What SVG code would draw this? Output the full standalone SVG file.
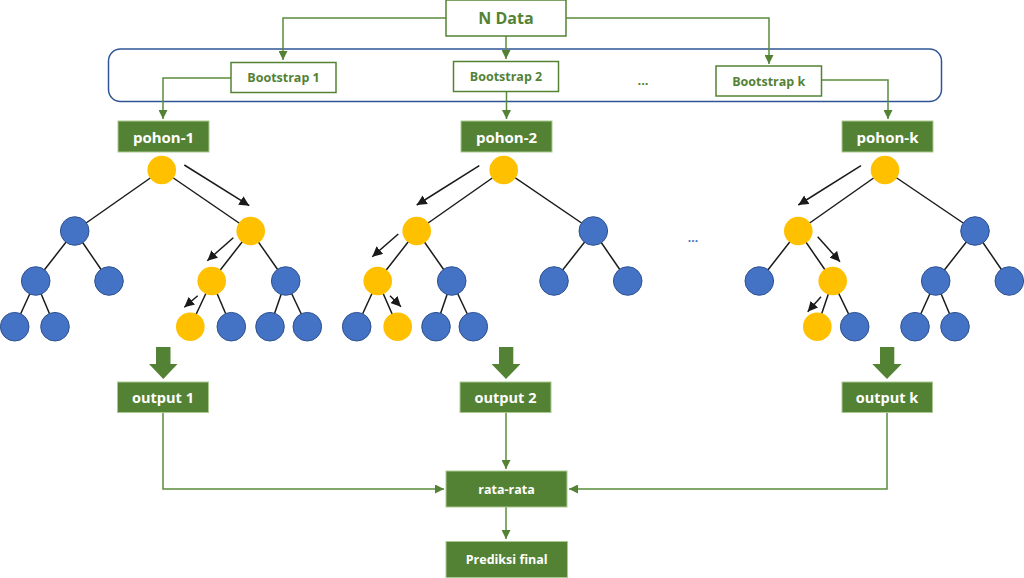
<svg xmlns="http://www.w3.org/2000/svg" width="1024" height="578" viewBox="0 0 1024 578">
<style>
.obox{fill:#fff;stroke:#548235;stroke-width:1.5}
.gbox{fill:#548235;stroke:#a9c98f;stroke-width:1}
.otxt{fill:#548235;font-family:"Open Sans","Liberation Sans",sans-serif;font-weight:700;text-anchor:middle;dominant-baseline:central}
.gtxt{fill:#fff;font-family:"Open Sans","Liberation Sans",sans-serif;font-weight:700;text-anchor:middle;dominant-baseline:central}
.conn{fill:none;stroke:#5b8c3c;stroke-width:1.5}
.edge{stroke:#1a1a1a;stroke-width:1.5}
.tarr{stroke:#1a1a1a;stroke-width:1.5;marker-end:url(#bk)}
.y{fill:#ffc000}
.b{fill:#4472c4;stroke:#2f528f;stroke-width:1}
.big{fill:#548235}
</style>
<defs>
<marker id="gm" viewBox="0 0 10 10" refX="10" refY="5" markerWidth="9" markerHeight="9" orient="auto" markerUnits="userSpaceOnUse">
<path d="M0,0 L10,5 L0,10 z" fill="#548235"/>
</marker>
<marker id="bk" viewBox="0 0 10 10" refX="10" refY="5" markerWidth="10" markerHeight="10" orient="auto" markerUnits="userSpaceOnUse">
<path d="M0,0 L10,5 L0,10 z" fill="#1a1a1a"/>
</marker>
</defs>

<rect id="container" x="108.5" y="49" width="833" height="52.5" rx="12" fill="none" stroke="#2f5597" stroke-width="1.5"/>
<text x="643" y="80" class="otxt" font-size="13">...</text>
<text x="693" y="242" fill="#4472c4" font-family="Open Sans, sans-serif" font-size="12" font-weight="700" text-anchor="middle">...</text>

<g id="connectors">
<path class="conn" d="M446,18 H283 V60" marker-end="url(#gm)"/>
<path class="conn" d="M506,36 V59" marker-end="url(#gm)"/>
<path class="conn" d="M566,18 H769 V64" marker-end="url(#gm)"/>
<path class="conn" d="M231,78 H163 V119" marker-end="url(#gm)"/>
<path class="conn" d="M506.5,92 V119" marker-end="url(#gm)"/>
<path class="conn" d="M822,80 H888 V119" marker-end="url(#gm)"/>
<path class="conn" d="M163,412 V489 H444" marker-end="url(#gm)"/>
<path class="conn" d="M506,412 V469" marker-end="url(#gm)"/>
<path class="conn" d="M887,412 V489 H569" marker-end="url(#gm)"/>
<path class="conn" d="M506,507 V539" marker-end="url(#gm)"/>
</g>

<g id="n-data"><rect class="obox" x="446" y="0" width="120" height="36"/><text class="otxt" x="506" y="18" font-size="16">N Data</text></g>
<g id="bootstrap-1"><rect class="obox" x="231" y="62.5" width="105" height="30"/><text class="otxt" x="283.5" y="77.5" font-size="12.5">Bootstrap 1</text></g>
<g id="bootstrap-2"><rect class="obox" x="453.5" y="61.5" width="105" height="30"/><text class="otxt" x="506" y="76.5" font-size="12.5">Bootstrap 2</text></g>
<g id="bootstrap-k"><rect class="obox" x="716" y="66" width="105.5" height="30"/><text class="otxt" x="768.7" y="81" font-size="12.5">Bootstrap k</text></g>

<g id="pohon-1"><rect class="gbox" x="118" y="121" width="91" height="31"/><text class="gtxt" x="163.5" y="136.5" font-size="15">pohon-1</text></g>
<g id="pohon-2"><rect class="gbox" x="461" y="121" width="91" height="31"/><text class="gtxt" x="506.5" y="136.5" font-size="15">pohon-2</text></g>
<g id="pohon-k"><rect class="gbox" x="842" y="121" width="91" height="31"/><text class="gtxt" x="887.5" y="136.5" font-size="15">pohon-k</text></g>

<g id="tree-1">
<line class="edge" x1="161.7" y1="170" x2="74.7" y2="231"/>
<line class="edge" x1="161.7" y1="170" x2="250.7" y2="231"/>
<line class="edge" x1="74.7" y1="231" x2="35.7" y2="281"/>
<line class="edge" x1="74.7" y1="231" x2="109" y2="281"/>
<line class="edge" x1="250.7" y1="231" x2="211.7" y2="281"/>
<line class="edge" x1="250.7" y1="231" x2="285.7" y2="281"/>
<line class="edge" x1="35.7" y1="281" x2="14.7" y2="326.7"/>
<line class="edge" x1="35.7" y1="281" x2="55" y2="326.7"/>
<line class="edge" x1="211.7" y1="281" x2="190.3" y2="326.7"/>
<line class="edge" x1="211.7" y1="281" x2="231.3" y2="326.7"/>
<line class="edge" x1="285.7" y1="281" x2="270" y2="326.7"/>
<line class="edge" x1="285.7" y1="281" x2="307.3" y2="326.7"/>
<circle class="y" cx="161.7" cy="170" r="14.3"/>
<circle class="b" cx="74.7" cy="231" r="14.3"/>
<circle class="y" cx="250.7" cy="231" r="14.3"/>
<circle class="b" cx="35.7" cy="281" r="14.3"/>
<circle class="b" cx="109" cy="281" r="14.3"/>
<circle class="y" cx="211.7" cy="281" r="14.3"/>
<circle class="b" cx="285.7" cy="281" r="14.3"/>
<circle class="b" cx="14.7" cy="326.7" r="14.3"/>
<circle class="b" cx="55" cy="326.7" r="14.3"/>
<circle class="y" cx="190.3" cy="326.7" r="14.3"/>
<circle class="b" cx="231.3" cy="326.7" r="14.3"/>
<circle class="b" cx="270" cy="326.7" r="14.3"/>
<circle class="b" cx="307.3" cy="326.7" r="14.3"/>
<line class="tarr" x1="184.3" y1="165" x2="249.3" y2="205.7"/>
<line class="tarr" x1="233.3" y1="237.7" x2="207.3" y2="260.7"/>
<line class="tarr" x1="197.7" y1="295.7" x2="184.3" y2="307.3"/>
</g>

<g id="tree-2">
<line class="edge" x1="503.7" y1="170" x2="416.7" y2="231"/>
<line class="edge" x1="503.7" y1="170" x2="593.3" y2="231"/>
<line class="edge" x1="416.7" y1="231" x2="377.7" y2="281"/>
<line class="edge" x1="416.7" y1="231" x2="451.7" y2="281"/>
<line class="edge" x1="593.3" y1="231" x2="554" y2="281"/>
<line class="edge" x1="593.3" y1="231" x2="627.7" y2="281"/>
<line class="edge" x1="377.7" y1="281" x2="356.7" y2="326.7"/>
<line class="edge" x1="377.7" y1="281" x2="397.7" y2="326.7"/>
<line class="edge" x1="451.7" y1="281" x2="436" y2="326.7"/>
<line class="edge" x1="451.7" y1="281" x2="473.3" y2="326.7"/>
<circle class="y" cx="503.7" cy="170" r="14.3"/>
<circle class="y" cx="416.7" cy="231" r="14.3"/>
<circle class="b" cx="593.3" cy="231" r="14.3"/>
<circle class="y" cx="377.7" cy="281" r="14.3"/>
<circle class="b" cx="451.7" cy="281" r="14.3"/>
<circle class="b" cx="554" cy="281" r="14.3"/>
<circle class="b" cx="627.7" cy="281" r="14.3"/>
<circle class="b" cx="356.7" cy="326.7" r="14.3"/>
<circle class="y" cx="397.7" cy="326.7" r="14.3"/>
<circle class="b" cx="436" cy="326.7" r="14.3"/>
<circle class="b" cx="473.3" cy="326.7" r="14.3"/>
<line class="tarr" x1="479.3" y1="165.7" x2="416.7" y2="205"/>
<line class="tarr" x1="398.3" y1="234" x2="372.3" y2="256.7"/>
<line class="tarr" x1="390" y1="295.7" x2="401" y2="306.7"/>
</g>

<g id="tree-k">
<line class="edge" x1="885" y1="170" x2="798.3" y2="231"/>
<line class="edge" x1="885" y1="170" x2="975" y2="231"/>
<line class="edge" x1="798.3" y1="231" x2="759.3" y2="281"/>
<line class="edge" x1="798.3" y1="231" x2="832.7" y2="281"/>
<line class="edge" x1="975" y1="231" x2="935.7" y2="281"/>
<line class="edge" x1="975" y1="231" x2="1009.3" y2="281"/>
<line class="edge" x1="832.7" y1="281" x2="817.3" y2="326.7"/>
<line class="edge" x1="832.7" y1="281" x2="854.7" y2="326.7"/>
<line class="edge" x1="935.7" y1="281" x2="915" y2="326.7"/>
<line class="edge" x1="935.7" y1="281" x2="955" y2="326.7"/>
<circle class="y" cx="885" cy="170" r="14.3"/>
<circle class="y" cx="798.3" cy="231" r="14.3"/>
<circle class="b" cx="975" cy="231" r="14.3"/>
<circle class="b" cx="759.3" cy="281" r="14.3"/>
<circle class="y" cx="832.7" cy="281" r="14.3"/>
<circle class="b" cx="935.7" cy="281" r="14.3"/>
<circle class="b" cx="1009.3" cy="281" r="14.3"/>
<circle class="y" cx="817.3" cy="326.7" r="14.3"/>
<circle class="b" cx="854.7" cy="326.7" r="14.3"/>
<circle class="b" cx="915" cy="326.7" r="14.3"/>
<circle class="b" cx="955" cy="326.7" r="14.3"/>
<line class="tarr" x1="861" y1="165.7" x2="798.3" y2="205"/>
<line class="tarr" x1="817.7" y1="236.7" x2="840" y2="261.7"/>
<line class="tarr" x1="821" y1="296.7" x2="807.7" y2="311.7"/>
</g>

<g id="down-arrows">
<path class="big" d="M156,347 H170.5 V364 H177.5 L163.3,379 L149,364 H156 Z"/>
<path class="big" d="M499,347 H513.3 V364 H520.5 L506,379 L491.5,364 H499 Z"/>
<path class="big" d="M880,347 H894.3 V364 H901.7 L887,379 L872.3,364 H880 Z"/>
</g>

<g id="output-1"><rect class="gbox" x="117.5" y="382" width="91" height="30.5"/><text class="gtxt" x="163" y="397" font-size="14.5">output 1</text></g>
<g id="output-2"><rect class="gbox" x="460" y="382" width="91" height="30.5"/><text class="gtxt" x="505.5" y="397" font-size="14.5">output 2</text></g>
<g id="output-k"><rect class="gbox" x="842" y="382" width="90.5" height="30.5"/><text class="gtxt" x="887" y="397" font-size="14.5">output k</text></g>
<g id="rata-rata"><rect class="gbox" x="446" y="471" width="121" height="36"/><text class="gtxt" x="506.5" y="489" font-size="12.5">rata-rata</text></g>
<g id="prediksi-final"><rect class="gbox" x="446" y="541.5" width="121.5" height="36"/><text class="gtxt" x="506.7" y="559.5" font-size="12.5">Prediksi final</text></g>
</svg>
